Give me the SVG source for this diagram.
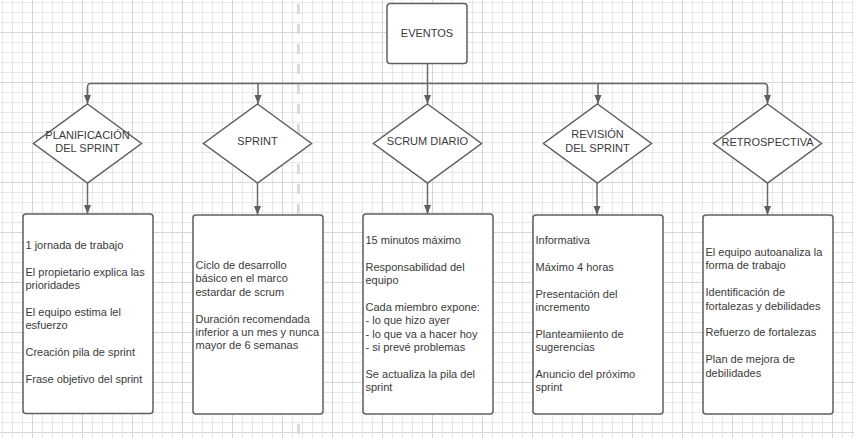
<svg xmlns="http://www.w3.org/2000/svg" width="854" height="438" viewBox="0 0 854 438">
  <defs>
    <pattern id="minor" x="2" y="2" width="10" height="10" patternUnits="userSpaceOnUse">
      <path d="M0.5 0 V10 M0 0.5 H10" stroke="#e8e8e8" stroke-width="1" fill="none"/>
    </pattern>
    <pattern id="major" x="32" y="32" width="50" height="50" patternUnits="userSpaceOnUse">
      <path d="M0.5 0 V50 M0 0.5 H50" stroke="#d6d6d6" stroke-width="1" fill="none"/>
    </pattern>
    <marker id="arrow" markerUnits="userSpaceOnUse" markerWidth="10" markerHeight="8" refX="9" refY="3.5" orient="auto">
      <path d="M0 0 L9 3.5 L0 7 z" fill="#5f5f5f"/>
    </marker>
    <style>
      .shape { fill: #ffffff; stroke: #5f5f5f; stroke-width: 1.5; }
      .conn { fill: none; stroke: #6a6a6a; stroke-width: 1.5; }
      .arr { marker-end: url(#arrow); }
      text { font-family: "Liberation Sans", Arial, sans-serif; font-size: 11px; fill: #3a3a3a; }
      .c { text-anchor: middle; }
    </style>
  </defs>

  <rect x="0" y="0" width="854" height="438" fill="#ffffff"/>
  <rect x="0" y="0" width="854" height="438" fill="url(#minor)"/>
  <rect x="0" y="0" width="854" height="438" fill="url(#major)"/>
  <line x1="298.5" y1="4" x2="298.5" y2="438" stroke="#dadada" stroke-width="3" stroke-dasharray="10 10"/>

  <g id="connectors">
    <path class="conn" d="M427.5 63 V83.5"/>
    <path class="conn" d="M87.5 96 V87 Q87.5 83.5 91 83.5 H764 Q767.5 83.5 767.5 87 V96"/>
    <path class="conn arr" d="M87.5 87 V104"/>
    <path class="conn arr" d="M767.5 87 V104"/>
    <path class="conn arr" d="M258 83.5 V104"/>
    <path class="conn arr" d="M427.5 83.5 V104"/>
    <path class="conn arr" d="M598 83.5 V104"/>
    <path class="conn arr" d="M87.5 183 V214"/>
    <path class="conn arr" d="M257.5 183 V215"/>
    <path class="conn arr" d="M427.5 183 V214"/>
    <path class="conn arr" d="M597 183 V215"/>
    <path class="conn arr" d="M767.5 183 V215"/>
  </g>

  <g id="eventos">
    <rect class="shape" x="387" y="3.5" width="80" height="60" rx="3"/>
    <text class="c" x="427" y="37">EVENTOS</text>
  </g>

  <g id="planificacion">
    <polygon class="shape" points="87.5,104 141.5,143.5 87.5,183 33.5,143.5"/>
    <text class="c" x="87.5" y="139">PLANIFICACIÓN</text>
    <text class="c" x="87.5" y="152.4">DEL SPRINT</text>
  </g>

  <g id="sprint">
    <polygon class="shape" points="257.5,104 311.5,143.5 257.5,183 203.5,143.5"/>
    <text class="c" x="257.5" y="145">SPRINT</text>
  </g>

  <g id="scrum-diario">
    <polygon class="shape" points="427.5,104 481.5,143.5 427.5,183 373.5,143.5"/>
    <text class="c" x="427.5" y="145.3">SCRUM DIARIO</text>
  </g>

  <g id="revision">
    <polygon class="shape" points="597.5,104 651.5,143.5 597.5,183 543.5,143.5"/>
    <text class="c" x="597.5" y="138.3">REVISIÓN</text>
    <text class="c" x="597.5" y="151.7">DEL SPRINT</text>
  </g>

  <g id="retrospectiva">
    <polygon class="shape" points="767.5,104 821.5,143.5 767.5,183 713.5,143.5"/>
    <text class="c" x="767.5" y="146.3">RETROSPECTIVA</text>
  </g>

  <g id="box-planificacion">
    <rect class="shape" x="23" y="214" width="130" height="199.5" rx="3"/>
    <text x="25.5" y="249">
      <tspan x="25.5">1 jornada de trabajo</tspan>
      <tspan x="25.5" dy="26.8">El propietario explica las</tspan>
      <tspan x="25.5" dy="13.4">prioridades</tspan>
      <tspan x="25.5" dy="26.8">El equipo estima lel</tspan>
      <tspan x="25.5" dy="13.4">esfuerzo</tspan>
      <tspan x="25.5" dy="26.8">Creación pila de sprint</tspan>
      <tspan x="25.5" dy="26.8">Frase objetivo del sprint</tspan>
    </text>
  </g>

  <g id="box-sprint">
    <rect class="shape" x="193" y="215" width="130" height="199" rx="3"/>
    <text x="195.5" y="269">
      <tspan x="195.5">Ciclo de desarrollo</tspan>
      <tspan x="195.5" dy="13.4">básico en el marco</tspan>
      <tspan x="195.5" dy="13.4">estardar de scrum</tspan>
      <tspan x="195.5" dy="26.8">Duración recomendada</tspan>
      <tspan x="195.5" dy="13.4">inferior a un mes y nunca</tspan>
      <tspan x="195.5" dy="13.4">mayor de 6 semanas</tspan>
    </text>
  </g>

  <g id="box-scrum-diario">
    <rect class="shape" x="363" y="214" width="130" height="200" rx="3"/>
    <text x="365.5" y="244">
      <tspan x="365.5">15 minutos máximo</tspan>
      <tspan x="365.5" dy="26.8">Responsabilidad del</tspan>
      <tspan x="365.5" dy="13.4">equipo</tspan>
      <tspan x="365.5" dy="26.8">Cada miembro expone:</tspan>
      <tspan x="365.5" dy="13.4">- lo que hizo ayer</tspan>
      <tspan x="365.5" dy="13.4">- lo que va a hacer hoy</tspan>
      <tspan x="365.5" dy="13.4">- si prevé problemas</tspan>
      <tspan x="365.5" dy="26.8">Se actualiza la pila del</tspan>
      <tspan x="365.5" dy="13.4">sprint</tspan>
    </text>
  </g>

  <g id="box-revision">
    <rect class="shape" x="533" y="215" width="130" height="199" rx="3"/>
    <text x="535.5" y="244">
      <tspan x="535.5">Informativa</tspan>
      <tspan x="535.5" dy="26.8">Máximo 4 horas</tspan>
      <tspan x="535.5" dy="26.8">Presentación del</tspan>
      <tspan x="535.5" dy="13.4">incremento</tspan>
      <tspan x="535.5" dy="26.8">Planteamiiento de</tspan>
      <tspan x="535.5" dy="13.4">sugerencias</tspan>
      <tspan x="535.5" dy="26.8">Anuncio del próximo</tspan>
      <tspan x="535.5" dy="13.4">sprint</tspan>
    </text>
  </g>

  <g id="box-retrospectiva">
    <rect class="shape" x="703" y="215" width="130" height="199" rx="3"/>
    <text x="705.5" y="256">
      <tspan x="705.5">El equipo autoanaliza la</tspan>
      <tspan x="705.5" dy="13.4">forma de trabajo</tspan>
      <tspan x="705.5" dy="26.8">Identificación de</tspan>
      <tspan x="705.5" dy="13.4">fortalezas y debilidades</tspan>
      <tspan x="705.5" dy="26.8">Refuerzo de fortalezas</tspan>
      <tspan x="705.5" dy="26.8">Plan de mejora de</tspan>
      <tspan x="705.5" dy="13.4">debilidades</tspan>
    </text>
  </g>
</svg>
